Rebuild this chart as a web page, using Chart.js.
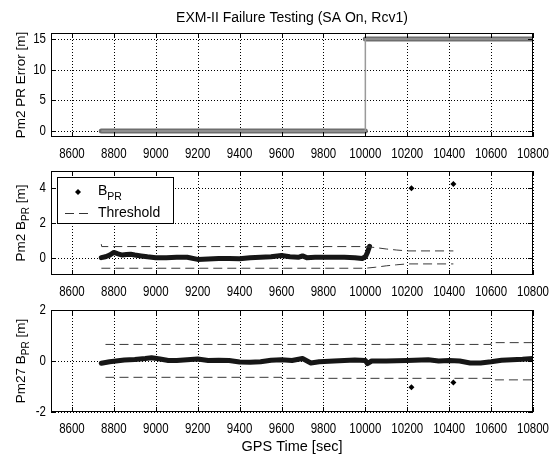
<!DOCTYPE html>
<html>
<head>
<meta charset="utf-8">
<script src="https://cdn.jsdelivr.net/npm/chart.js@4.4.0/dist/chart.umd.min.js"></script>
<style>
    body { margin: 0; background: #fff; }
    #wrap { position: relative; width: 553px; height: 455px; overflow: hidden; background: #fff; }
    canvas { position: absolute; left: 0; }
</style>
</head>
<body>
<div id="wrap">
    <canvas id="chartPrError" width="553" height="165" style="top:0px"></canvas>
    <canvas id="chartBprPrn2" width="553" height="150" style="top:150px"></canvas>
    <canvas id="chartBprPrn27" width="553" height="160" style="top:295px"></canvas>
</div>
<script>
// ---- data ----
const xTickVals = [8600, 8800, 9000, 9200, 9400, 9600, 9800, 10000, 10200, 10400, 10600, 10800];
const yTicksErr = [0, 5, 10, 15];
const yTicksB2 = [0, 2, 4];
const yTicksB27 = [-2, 0, 2];

// PRN 2 pseudorange error injected [m]
const errTime = [8740, 10000, 10000, 10800];
const errVal = [0, 0, 15, 15];

// PRN 2 B_PR
const bprTime2 = [8740, 8760, 8780, 8800, 8820, 8840, 8860, 8880, 8900, 8930, 8960, 9000, 9050, 9100, 9150, 9200, 9250, 9300, 9350, 9400, 9450, 9500, 9550, 9600, 9640, 9680, 9700, 9720, 9760, 9800, 9850, 9900, 9950, 9985, 10000, 10010, 10020];
const bprVal2 = [0.0, 0.05, 0.15, 0.3, 0.22, 0.15, 0.18, 0.2, 0.15, 0.1, 0.05, 0.0, 0.0, 0.02, 0.02, -0.1, -0.08, -0.05, -0.05, -0.06, 0.0, 0.03, 0.05, 0.12, 0.05, 0.02, 0.1, 0.0, 0.02, 0.03, 0.03, 0.03, 0.0, -0.05, 0.05, 0.3, 0.65];
const thrTime2 = [8740, 8742, 10000, 10050, 10100, 10150, 10200, 10420];
const thrUp2 = [0.78, 0.64, 0.64, 0.58, 0.5, 0.44, 0.39, 0.39];
const thrLo2 = [-0.61, -0.61, -0.61, -0.55, -0.47, -0.41, -0.36, -0.36];

// PRN 27 B_PR
const bprTime27 = [8740, 8780, 8850, 8900, 8950, 8980, 9020, 9060, 9100, 9150, 9200, 9250, 9300, 9350, 9400, 9450, 9500, 9550, 9600, 9650, 9700, 9740, 9780, 9850, 9900, 9950, 10000, 10010, 10030, 10100, 10200, 10300, 10350, 10400, 10450, 10500, 10550, 10600, 10650, 10700, 10750, 10800];
const bprVal27 = [-0.09, -0.03, 0.04, 0.06, 0.1, 0.13, 0.08, 0.02, 0.02, 0.05, 0.08, 0.02, 0.03, 0.02, -0.04, -0.05, -0.03, 0.03, 0.05, 0.02, 0.1, -0.08, -0.03, 0.0, 0.02, 0.04, 0.02, -0.1, 0.0, 0.0, 0.02, 0.05, 0.0, 0.02, 0.0, -0.08, -0.08, -0.03, 0.03, 0.05, 0.07, 0.1];
const thrTime27 = [8760, 9600, 9600, 10600, 10600, 10800];
const thrUp27 = [0.65, 0.65, 0.65, 0.65, 0.72, 0.72];
const thrLo27 = [-0.64, -0.64, -0.68, -0.68, -0.74, -0.74];

// outliers
const outTime = [10220, 10420];
const outB2 = [4.0, 4.25];
const outB27 = [-1.03, -0.84];

/*----------------------------------------------------------------*/
const FONT = "'Liberation Sans', Arial, Helvetica, sans-serif";

function pts(xs, ys) {
    return xs.map((v, i) => ({ x: v, y: ys[i] }));
}

function drawStretched(ctx, text, x, y, align, size, sy) {
    ctx.save();
    ctx.translate(x, y);
    ctx.scale(1, sy);
    ctx.font = size + 'px ' + FONT;
    ctx.textAlign = align;
    ctx.textBaseline = 'middle';
    ctx.fillText(text, 0, 0);
    ctx.restore();
}

// parts: [{t, sub}] drawn on alphabetic baseline
function drawRich(ctx, parts, x, y, size, subSize, subShift, align) {
    ctx.save();
    ctx.textAlign = 'left';
    ctx.textBaseline = 'alphabetic';
    let total = 0;
    const widths = parts.map(p => {
        ctx.font = (p.sub ? subSize : size) + 'px ' + FONT;
        const w = ctx.measureText(p.t).width;
        total += w;
        return w;
    });
    let cx = align === 'center' ? x - total / 2 : x;
    parts.forEach((p, i) => {
        ctx.font = (p.sub ? subSize : size) + 'px ' + FONT;
        ctx.fillText(p.t, cx, y + (p.sub ? subShift : 0));
        cx += widths[i];
    });
    ctx.restore();
}

function diamond(ctx, x, y, r) {
    ctx.beginPath();
    ctx.moveTo(x, y - r);
    ctx.lineTo(x + r, y);
    ctx.lineTo(x, y + r);
    ctx.lineTo(x - r, y);
    ctx.closePath();
    ctx.fill();
}

// dotted grid, drawn pixel by pixel so it stays crisp
function dottedGrid(chart) {
    const { ctx, chartArea: a } = chart;
    const x = chart.scales.x, y = chart.scales.y;
    const top = Math.round(a.top), bottom = Math.round(a.bottom);
    const left = Math.round(a.left), right = Math.round(a.right);
    ctx.save();
    ctx.fillStyle = '#000';
    x.ticks.forEach(t => {
        const px = Math.round(x.getPixelForValue(t.value));
        for (let py = bottom - 1; py > top; py -= 3) ctx.fillRect(px, py, 1, 1);
    });
    y.ticks.forEach(t => {
        const py = Math.round(y.getPixelForValue(t.value));
        for (let px = left + 1; px < right; px += 3) ctx.fillRect(px, py, 1, 1);
    });
    ctx.restore();
}

const matlabAxes = {
    id: 'matlabAxes',
    beforeDatasetsDraw(chart) {
        dottedGrid(chart);
    },
    afterDraw(chart, args, o) {
        const { ctx, chartArea: a } = chart;
        const x = chart.scales.x, y = chart.scales.y;
        ctx.save();
        ctx.strokeStyle = '#000';
        ctx.fillStyle = '#000';
        ctx.lineWidth = 1;
        ctx.setLineDash([]);
        ctx.strokeRect(Math.round(a.left) + 0.5, Math.round(a.top) + 0.5, Math.round(a.width) - 1, Math.round(a.height) - 1);
        ctx.beginPath();
        x.ticks.forEach(t => {
            const px = Math.round(x.getPixelForValue(t.value)) + 0.5;
            ctx.moveTo(px, a.bottom); ctx.lineTo(px, a.bottom - 5);
            ctx.moveTo(px, a.top); ctx.lineTo(px, a.top + 5);
        });
        y.ticks.forEach(t => {
            const py = Math.round(y.getPixelForValue(t.value)) + 0.5;
            ctx.moveTo(a.left, py); ctx.lineTo(a.left + 5, py);
            ctx.moveTo(a.right, py); ctx.lineTo(a.right - 5, py);
        });
        ctx.stroke();

        // tick labels
        x.ticks.forEach(t => drawStretched(ctx, String(t.value), x.getPixelForValue(t.value), a.bottom + 17, 'center', 11.5, 1.3));
        y.ticks.forEach(t => drawStretched(ctx, String(t.value), a.left - 5, y.getPixelForValue(t.value), 'right', 11.5, 1.3));

        // y title (rotated)
        ctx.save();
        ctx.translate(25, (a.top + a.bottom) / 2);
        ctx.rotate(-Math.PI / 2);
        drawRich(ctx, o.yTitle, 0, 0, 13.5, 10, 4, 'center');
        ctx.restore();

        if (o.title) {
            ctx.font = '14px ' + FONT;
            ctx.textAlign = 'center';
            ctx.textBaseline = 'middle';
            ctx.fillText(o.title, (a.left + a.right) / 2, 18);
        }
        if (o.xTitle) {
            ctx.font = '14.5px ' + FONT;
            ctx.textAlign = 'center';
            ctx.textBaseline = 'middle';
            ctx.fillText(o.xTitle, (a.left + a.right) / 2, a.bottom + 35);
        }
        if (o.legend) {
            const lx = a.left + 6, ly = a.top + 6;
            ctx.fillStyle = '#fff';
            ctx.fillRect(lx, ly, 116, 46);
            ctx.strokeRect(lx + 0.5, ly + 0.5, 116, 46);
            ctx.fillStyle = '#000';
            diamond(ctx, lx + 21, ly + 15, 3);
            drawRich(ctx, [{ t: 'B' }, { t: 'PR', sub: true }], lx + 41, ly + 18, 14, 10.5, 5, 'left');
            ctx.strokeStyle = '#333';
            ctx.setLineDash([9, 5]);
            ctx.beginPath();
            ctx.moveTo(lx + 8, ly + 36.5);
            ctx.lineTo(lx + 32, ly + 36.5);
            ctx.stroke();
            ctx.setLineDash([]);
            ctx.font = '14px ' + FONT;
            ctx.textAlign = 'left';
            ctx.textBaseline = 'middle';
            ctx.fillText('Threshold', lx + 41, ly + 36);
        }
        ctx.restore();
    }
};

function axesOptions(yMin, yMax, yTicks, pad, xHeight, plugOpts) {
    return {
        responsive: false,
        animation: false,
        events: [],
        layout: { autoPadding: false, padding: pad },
        scales: {
            x: {
                type: 'linear',
                min: 8500,
                max: 10800,
                afterBuildTicks: s => { s.ticks = xTickVals.map(v => ({ value: v })); },
                afterFit: s => { s.height = xHeight; },
                ticks: { display: false },
                grid: { display: false },
                border: { display: false }
            },
            y: {
                type: 'linear',
                min: yMin,
                max: yMax,
                afterBuildTicks: s => { s.ticks = yTicks.map(v => ({ value: v })); },
                afterFit: s => { s.width = 51; },
                ticks: { display: false },
                grid: { display: false },
                border: { display: false }
            }
        },
        plugins: {
            legend: { display: false },
            tooltip: { enabled: false },
            matlabAxes: plugOpts
        }
    };
}

/*----------------------------------------------------------------*/
const errThick = pts(errTime, errVal);
errThick.splice(2, 0, { x: errTime[2], y: null });

new Chart(document.getElementById('chartPrError'), {
    type: 'line',
    data: {
        datasets: [
            {
                data: pts(errTime, errVal),
                borderColor: '#9a9a9a',
                borderWidth: 1.5,
                pointRadius: 0
            },
            {
                data: errThick,
                borderColor: '#6e6e6e',
                borderWidth: 5,
                borderCapStyle: 'round',
                pointRadius: 0,
                spanGaps: false
            }
        ]
    },
    options: axesOptions(-1, 16, yTicksErr, { top: 33, left: 0, right: 20, bottom: 0 }, 28, {
        title: 'EXM-II Failure Testing (SA On, Rcv1)',
        yTitle: [{ t: 'Pm2 PR Error [m]' }]
    }),
    plugins: [matlabAxes]
});

/*----------------------------------------------------------------*/
function bprDatasets(time, val, thrTime, thrUp, thrLo, outVal) {
    const dash = {
        borderColor: '#3a3a3a',
        borderWidth: 1,
        borderDash: [9, 5],
        pointRadius: 0
    };
    return [
        Object.assign({ data: pts(thrTime, thrUp) }, dash),
        Object.assign({ data: pts(thrTime, thrLo) }, dash),
        {
            data: pts(time, val),
            borderColor: '#161616',
            borderWidth: 5,
            borderCapStyle: 'round',
            borderJoinStyle: 'round',
            pointRadius: 0
        },
        {
            data: pts(outTime, outVal),
            showLine: false,
            pointStyle: 'rectRot',
            pointRadius: 3,
            backgroundColor: '#000',
            borderWidth: 0
        }
    ];
}

new Chart(document.getElementById('chartBprPrn2'), {
    type: 'line',
    data: { datasets: bprDatasets(bprTime2, bprVal2, thrTime2, thrUp2, thrLo2, outB2) },
    options: axesOptions(-1, 5, yTicksB2, { top: 21, left: 0, right: 20, bottom: 0 }, 25, {
        yTitle: [{ t: 'Pm2 B' }, { t: 'PR', sub: true }, { t: ' [m]' }],
        legend: true
    }),
    plugins: [matlabAxes]
});

new Chart(document.getElementById('chartBprPrn27'), {
    type: 'line',
    data: { datasets: bprDatasets(bprTime27, bprVal27, thrTime27, thrUp27, thrLo27, outB27) },
    options: axesOptions(-2, 2, yTicksB27, { top: 15, left: 0, right: 20, bottom: 0 }, 43, {
        yTitle: [{ t: 'Pm27 B' }, { t: 'PR', sub: true }, { t: ' [m]' }],
        xTitle: 'GPS Time [sec]'
    }),
    plugins: [matlabAxes]
});
</script>
</body>
</html>
